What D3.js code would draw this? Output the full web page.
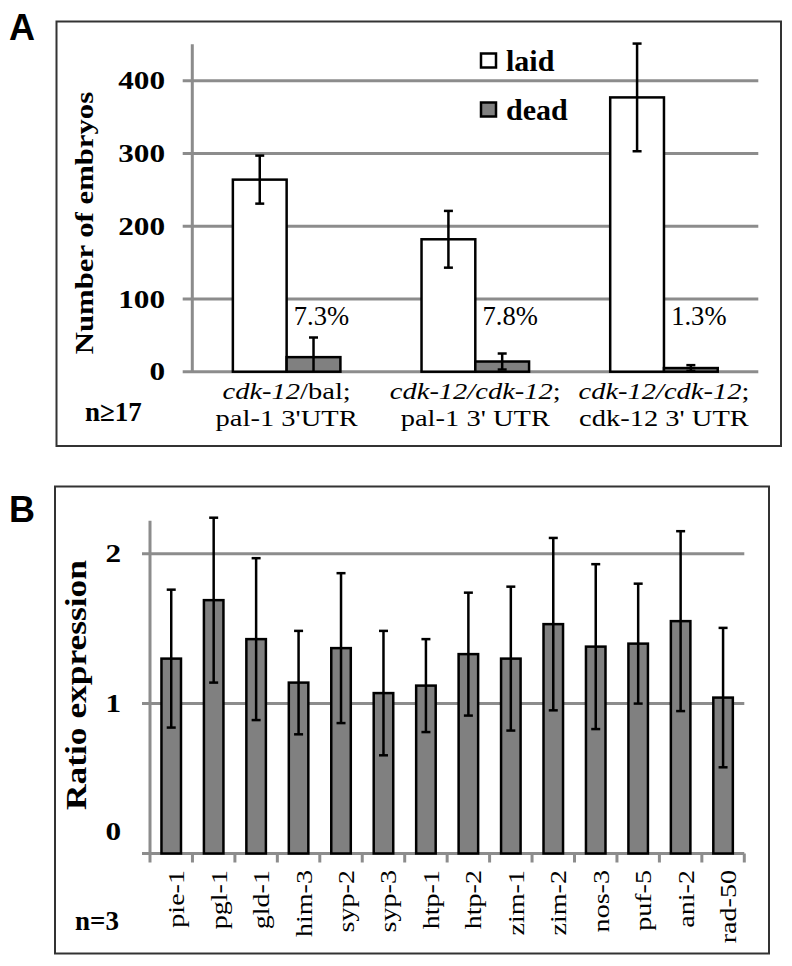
<!DOCTYPE html>
<html><head><meta charset="utf-8">
<script src="https://cdn.jsdelivr.net/npm/d3@7"></script>
<style>body{margin:0;background:#fff}</style>
</head><body><svg id="c" width="792" height="966"></svg>
<script>
// ---------- data ----------
const groupLine1 = ["*cdk-12*/bal;", "*cdk-12/cdk-12*;", "*cdk-12/cdk-12*;"];
const groupLine2 = ["pal-1 3'UTR", "pal-1 3' UTR", "cdk-12 3' UTR"];
const seriesA = ["laid", "dead"];
const laid = [264, 182, 377];
const laidErr = [33, 39, 74];
const dead = [20, 14, 5];
const deadErr = [27, 11, 4];
const deadPct = ["7.3%", "7.8%", "1.3%"];
const ticksA = [0, 100, 200, 300, 400];

const genes = ["pie-1","pgl-1","gld-1","him-3","syp-2","syp-3","htp-1","htp-2","zim-1","zim-2","nos-3","puf-5","ani-2","rad-50"];
const ratio = [1.30, 1.69, 1.43, 1.14, 1.37, 1.07, 1.12, 1.33, 1.30, 1.53, 1.38, 1.40, 1.55, 1.04];
const ratioErr = [0.46, 0.55, 0.54, 0.345, 0.50, 0.415, 0.31, 0.41, 0.48, 0.575, 0.55, 0.40, 0.60, 0.465];
const ticksB = [0, 1, 2];

// ---------- helpers ----------
const svg = d3.select("#c");
const SERIF = "'Liberation Serif','Times New Roman',serif";
const SANS = "'Liberation Sans',Arial,sans-serif";
const GRID = "#8c8c8c";
const FILL = "#808080";

function addText(parent, o) {
  const t = parent.append("text")
    .attr("transform", `translate(${o.x},${o.y}) rotate(${o.rot||0}) scale(${o.sx||1},1)`)
    .attr("font-family", o.family || SERIF)
    .attr("font-size", o.size)
    .attr("font-weight", o.weight || "normal")
    .attr("text-anchor", o.anchor || "start")
    .attr("fill", "#000");
  if (o.dy) t.attr("dy", o.dy);
  // *italic* markup
  const parts = String(o.text).split("*");
  parts.forEach((p, i) => {
    if (!p) return;
    t.append("tspan").attr("font-style", i % 2 ? "italic" : "normal").text(p);
  });
  return t;
}

// ---------- Panel A ----------
const gA = svg.append("g");
gA.append("rect").attr("x", 56.5).attr("y", 21.5).attr("width", 724.5).attr("height", 424.5)
  .attr("fill", "none").attr("stroke", "#333").attr("stroke-width", 2);
addText(gA, {x: 9, y: 40, text: "A", size: 36, weight: "bold", family: SANS});

const yA = d3.scaleLinear().domain([0, 450]).range([371.7, 44.3]);
const xA = d3.scaleBand().domain(d3.range(3)).range([192.3, 758.3]).paddingInner(0.43).paddingOuter(0.215);
const xSubA = d3.scaleBand().domain(seriesA).range([0, xA.bandwidth()]);

// gridlines
gA.selectAll(".grid").data(ticksA).join("line")
  .attr("x1", 182.7).attr("x2", 758.3).attr("y1", d => yA(d)).attr("y2", d => yA(d))
  .attr("stroke", GRID).attr("stroke-width", 3);
gA.append("line").attr("x1", 192.3).attr("x2", 192.3).attr("y1", yA(450)).attr("y2", yA(0))
  .attr("stroke", GRID).attr("stroke-width", 3);
ticksA.forEach(v => addText(gA, {x: 165, y: yA(v), dy: "0.35em", text: v, size: 25, weight: "bold", anchor: "end", sx: 1.25}));
addText(gA, {x: 93, y: 223, text: "Number of embryos", size: 25, weight: "bold", anchor: "middle", rot: -90, sx: 1.23});

// bars
const rowsA = d3.range(3).flatMap(i => [
  {i, s: "laid", v: laid[i], e: laidErr[i]},
  {i, s: "dead", v: dead[i], e: deadErr[i]}
]);
gA.selectAll(".bar").data(rowsA).join("rect")
  .attr("x", d => xA(d.i) + xSubA(d.s)).attr("width", xSubA.bandwidth())
  .attr("y", d => yA(d.v)).attr("height", d => yA(0) - yA(d.v))
  .attr("fill", d => d.s === "laid" ? "#fff" : FILL)
  .attr("stroke", "#000").attr("stroke-width", 2.5);
// error bars
rowsA.forEach(d => {
  const cx = xA(d.i) + xSubA(d.s) + xSubA.bandwidth() / 2;
  const lo = Math.max(0, d.v - d.e), hi = d.v + d.e;
  gA.append("line").attr("x1", cx).attr("x2", cx).attr("y1", yA(lo)).attr("y2", yA(hi))
    .attr("stroke", "#000").attr("stroke-width", 2.5);
  gA.append("line").attr("x1", cx - 4.5).attr("x2", cx + 4.5).attr("y1", yA(hi)).attr("y2", yA(hi))
    .attr("stroke", "#000").attr("stroke-width", 2.5);
  if (d.v - d.e > 0)
    gA.append("line").attr("x1", cx - 4.5).attr("x2", cx + 4.5).attr("y1", yA(lo)).attr("y2", yA(lo))
      .attr("stroke", "#000").attr("stroke-width", 2.5);
});
// percentages
deadPct.forEach((p, i) => {
  const cx = xA(i) + xSubA("dead") + xSubA.bandwidth() / 2 + 8;
  addText(gA, {x: cx, y: yA(64), text: p, size: 28, anchor: "middle", sx: 0.95});
});
// category labels
d3.range(3).forEach(i => {
  const cx = xA(i) + xA.bandwidth() / 2;
  addText(gA, {x: cx, y: 399, text: groupLine1[i], size: 23, anchor: "middle", sx: 1.24});
  addText(gA, {x: cx, y: 426, text: groupLine2[i], size: 23, anchor: "middle", sx: 1.24});
});
addText(gA, {x: 85, y: 421, text: "n≥17", size: 27, weight: "bold"});

// legend
const legA = [{s: "laid", y: 61}, {s: "dead", y: 110}];
legA.forEach(l => {
  gA.append("rect").attr("x", 481).attr("y", l.y - 7.5).attr("width", 15).attr("height", 14)
    .attr("fill", l.s === "laid" ? "#fff" : FILL).attr("stroke", "#000").attr("stroke-width", 2.5);
  addText(gA, {x: 506, y: l.y + 10, text: l.s, size: 30, weight: "bold"});
});

// ---------- Panel B ----------
const gB = svg.append("g");
gB.append("rect").attr("x", 55).attr("y", 486.5).attr("width", 714).attr("height", 467)
  .attr("fill", "none").attr("stroke", "#333").attr("stroke-width", 2);
addText(gB, {x: 9, y: 522, text: "B", size: 36, weight: "bold", family: SANS});

const yB = d3.scaleLinear().domain([0, 2.22]).range([853.5, 520.7]);
const xB = d3.scaleBand().domain(genes).range([150, 744.3]).paddingInner(0.54).paddingOuter(0.27);

ticksB.forEach(v => {
  gB.append("line").attr("x1", 142).attr("x2", 744.3).attr("y1", yB(v)).attr("y2", yB(v))
    .attr("stroke", GRID).attr("stroke-width", 3);
  addText(gB, {x: 121, y: yB(v) + (v === 0 ? -22 : 0), dy: "0.35em", text: v, size: 25, weight: "bold", anchor: "end", sx: 1.25});
});
gB.append("line").attr("x1", 150).attr("x2", 150).attr("y1", yB(2.22)).attr("y2", yB(0))
  .attr("stroke", GRID).attr("stroke-width", 3);
// bottom ticks at band boundaries
const bounds = genes.map(g => xB(g) - xB.step() * xB.paddingInner() / 2);
bounds.push(744.3);
bounds.forEach(b => gB.append("line").attr("x1", b).attr("x2", b).attr("y1", yB(0)).attr("y2", yB(0) + 9)
  .attr("stroke", GRID).attr("stroke-width", 3));

addText(gB, {x: 86, y: 685, text: "Ratio expression", size: 30, weight: "bold", anchor: "middle", rot: -90, sx: 1.18});

gB.selectAll(".bar").data(genes).join("rect")
  .attr("x", g => xB(g)).attr("width", xB.bandwidth())
  .attr("y", (g, i) => yB(ratio[i])).attr("height", (g, i) => yB(0) - yB(ratio[i]))
  .attr("fill", FILL).attr("stroke", "#000").attr("stroke-width", 2.5);
genes.forEach((g, i) => {
  const cx = xB(g) + xB.bandwidth() / 2;
  const lo = ratio[i] - ratioErr[i], hi = ratio[i] + ratioErr[i];
  gB.append("line").attr("x1", cx).attr("x2", cx).attr("y1", yB(lo)).attr("y2", yB(hi))
    .attr("stroke", "#000").attr("stroke-width", 2.5);
  [lo, hi].forEach(v => gB.append("line").attr("x1", cx - 4.5).attr("x2", cx + 4.5)
    .attr("y1", yB(v)).attr("y2", yB(v)).attr("stroke", "#000").attr("stroke-width", 2.5));
  addText(gB, {x: cx + 13, y: 870, text: g, size: 24, anchor: "end", rot: -90, sx: 1.17});
});
addText(gB, {x: 75, y: 930, text: "n=3", size: 27, weight: "bold"});
</script>
</body></html>
